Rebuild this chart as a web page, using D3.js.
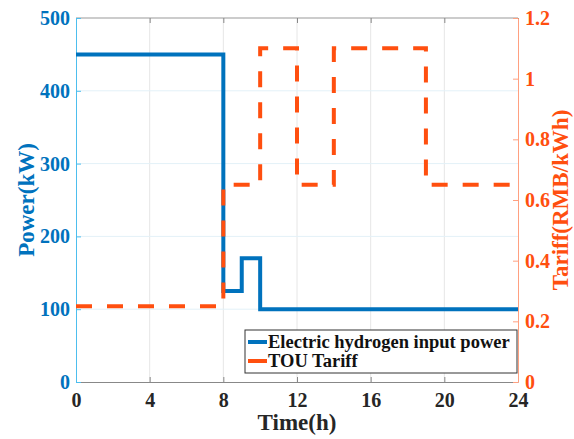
<!DOCTYPE html>
<html>
<head>
<meta charset="utf-8">
<script src="https://cdn.jsdelivr.net/npm/d3@7"></script>
<style>
  body { margin: 0; background: #fff; }
  text { font-family: "Liberation Serif", "Times New Roman", serif; font-weight: bold; }
</style>
</head>
<body>
<div id="plot"></div>
<script>
// step data: value holds from t[i] to t[i+1]
const powerTimes = [0, 8, 9, 10, 24];
const powerValues = [450, 125, 170, 100];
const tariffTimes = [0, 8, 10, 12, 14, 19, 24];
const tariffValues = [0.25, 0.65, 1.1, 0.65, 1.1, 0.65];
const xTicks = [0, 4, 8, 12, 16, 20, 24];
const leftTicks = [0, 100, 200, 300, 400, 500];
const rightTicks = [0, 0.2, 0.4, 0.6, 0.8, 1, 1.2];
const legendLabels = ["Electric hydrogen input power", "TOU Tariff"];

const width = 574, height = 439;
const margin = { left: 76, right: 56, top: 18, bottom: 57 };
const blue = "#0072bd", orange = "#ff4f0f";

const svg = d3.select("div#plot")
  .append("svg")
  .attr("width", width)
  .attr("height", height);

const x = d3.scaleLinear().domain([0, 24]).range([margin.left, width - margin.right]);
const yL = d3.scaleLinear().domain([0, 500]).range([height - margin.bottom, margin.top]);
const yR = d3.scaleLinear().domain([0, 1.2]).range([height - margin.bottom, margin.top]);

const x0 = x.range()[0], x1 = x.range()[1];
const y0 = yL.range()[0], y1 = yL.range()[1];

// grid
svg.append("g").selectAll("line")
  .data(xTicks.slice(1, -1))
  .join("line")
  .attr("x1", d => x(d)).attr("x2", d => x(d))
  .attr("y1", y0).attr("y2", y1)
  .attr("stroke", "#e6e6e6").attr("stroke-width", 1);
svg.append("g").selectAll("line")
  .data(leftTicks.slice(1, -1))
  .join("line")
  .attr("x1", x0).attr("x2", x1)
  .attr("y1", d => yL(d)).attr("y2", d => yL(d))
  .attr("stroke", "#e3f1f8").attr("stroke-width", 1);

// box
svg.append("line").attr("x1", x0).attr("x2", x1).attr("y1", y1).attr("y2", y1)
  .attr("stroke", "#999").attr("stroke-width", 1);

// axes
const xAxis = svg.append("g")
  .attr("transform", `translate(0,${y0})`)
  .call(d3.axisBottom(x).tickValues(xTicks).tickSizeInner(-5).tickSizeOuter(0).tickPadding(11));
xAxis.select(".domain").attr("stroke", "#888");
xAxis.selectAll(".tick line").attr("stroke", "#888");
xAxis.selectAll("text").attr("fill", "#262626").style("font-size", "20px");

const xTop = svg.append("g")
  .attr("transform", `translate(0,${y1})`)
  .call(d3.axisTop(x).tickValues(xTicks).tickSizeInner(-5).tickSizeOuter(0).tickFormat(""));
xTop.select(".domain").remove();
xTop.selectAll(".tick line").attr("stroke", "#888");

const leftAxis = svg.append("g")
  .attr("transform", `translate(${x0},0)`)
  .call(d3.axisLeft(yL).tickValues(leftTicks).tickSizeInner(-5).tickSizeOuter(0).tickPadding(6));
leftAxis.select(".domain").attr("stroke", "#4dbeee");
leftAxis.selectAll(".tick line").attr("stroke", "#4dbeee");
leftAxis.selectAll("text").attr("fill", blue).style("font-size", "20px");

const rightAxis = svg.append("g")
  .attr("transform", `translate(${x1},0)`)
  .call(d3.axisRight(yR).tickValues(rightTicks).tickSizeInner(-5).tickSizeOuter(0).tickPadding(7)
    .tickFormat(d3.format("~g")));
rightAxis.select(".domain").attr("stroke", "#ffa080");
rightAxis.selectAll(".tick line").attr("stroke", "#ffa080");
rightAxis.selectAll("text").attr("fill", orange).style("font-size", "20px");

// axis titles
svg.append("text")
  .attr("transform", `translate(34,200) rotate(-90)`)
  .attr("text-anchor", "middle")
  .attr("fill", blue)
  .style("font-size", "23px")
  .text("Power(kW)");
svg.append("text")
  .attr("transform", `translate(568,200) rotate(-90)`)
  .attr("text-anchor", "middle")
  .attr("fill", orange)
  .style("font-size", "23px")
  .text("Tariff(RMB/kWh)");
svg.append("text")
  .attr("x", (x0 + x1) / 2).attr("y", 430)
  .attr("text-anchor", "middle")
  .attr("fill", "#262626")
  .style("font-size", "23px")
  .text("Time(h)");

// step series
function stepPoints(times, values) {
  const pts = [];
  values.forEach((v, i) => {
    pts.push([times[i], v]);
    pts.push([times[i + 1], v]);
  });
  return pts;
}

const powerLine = d3.line().x(d => x(d[0])).y(d => yL(d[1]));
const tariffLine = d3.line().x(d => x(d[0])).y(d => yR(d[1]));

svg.append("path")
  .datum(stepPoints(powerTimes, powerValues))
  .attr("d", powerLine)
  .attr("fill", "none")
  .attr("stroke", blue)
  .attr("stroke-width", 4);

svg.append("path")
  .datum(stepPoints(tariffTimes, tariffValues))
  .attr("d", tariffLine)
  .attr("fill", "none")
  .attr("stroke", orange)
  .attr("stroke-width", 4)
  .attr("stroke-dasharray", "16,15");

// legend
const lg = svg.append("g").attr("transform", "translate(245,330)");
lg.append("rect")
  .attr("width", 272).attr("height", 43)
  .attr("fill", "#fff").attr("stroke", "#333").attr("stroke-width", 1);
const items = lg.selectAll("g.item")
  .data(legendLabels)
  .join("g")
  .attr("class", "item")
  .attr("transform", (d, i) => `translate(0,${12 + i * 19})`);
items.append("line")
  .attr("x1", 3).attr("x2", 22)
  .attr("stroke", (d, i) => i === 0 ? blue : orange)
  .attr("stroke-width", 4);
items.append("text")
  .attr("x", 23).attr("y", 6)
  .attr("fill", "#111")
  .style("font-size", "18.5px")
  .text(d => d);
</script>
</body>
</html>
